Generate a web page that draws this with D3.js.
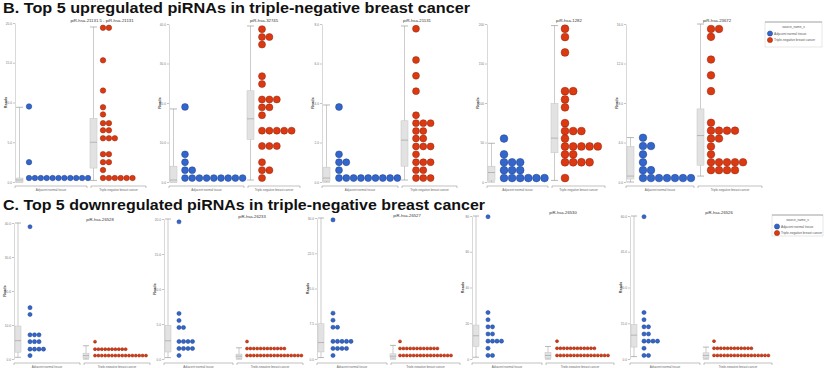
<!DOCTYPE html>
<html>
<head>
<meta charset="utf-8">
<script src="https://cdn.jsdelivr.net/npm/d3@7"></script>
<style>
  body { margin: 0; background: #fff; }
  svg { display: block; font-family: "Liberation Sans", Arial, sans-serif; }
</style>
</head>
<body>
<div id="chart"></div>
<script>
const groups = ["Adjacent normal tissue", "Triple-negative breast cancer"];
const colors = ["#3366cc", "#dc3912"];
const strokes = ["#1d3f85", "#8c240a"];

// panel names
const upNames = ["piR-hsa-21131.5 - piR-hsa-21131", "piR-hsa-32745", "piR-hsa-21131", "piR-hsa-1282", "piR-hsa-23672"];
const downNames = ["piR-hsa-26528", "piR-hsa-26233", "piR-hsa-26527", "piR-hsa-26530", "piR-hsa-26526"];

// y axis maxima (4 tick intervals)
const upMax = [20, 40, 8, 200, 16];
const downMax = [40, 20, 30, 80, 60];

// dots: [reads, number of dots in that row]
const upNormal = [
  [[9.5, 1], [2.5, 1], [0.5, 11]],
  [[19, 1], [7, 1], [5, 1], [3, 2], [1, 9]],
  [[3.8, 1], [1.4, 1], [1.0, 2], [0.6, 1], [0.2, 9]],
  [[55, 1], [35, 1], [25, 3], [15, 3], [5, 6]],
  [[4.48, 1], [3.64, 2], [2.8, 1], [2.0, 1], [1.2, 2], [0.4, 7]]
];
const upTumor = [
  [[19.4, 2], [15.3, 1], [11.5, 1], [9.4, 1], [8.5, 1], [7.4, 2], [6.5, 2], [5.5, 3], [3.5, 2], [2.5, 2], [1.5, 1], [0.5, 6]],
  [[38.7, 1], [36.7, 2], [34.8, 1], [26.8, 1], [24.8, 1], [20.9, 3], [18.9, 2], [16.9, 1], [13, 5], [9.1, 3], [5, 1], [3, 2], [1, 1]],
  [[7.76, 1], [6.18, 1], [5.38, 1], [4.6, 1], [3.38, 1], [2.98, 3], [2.58, 2], [2.2, 2], [1.8, 3], [1.4, 1], [1.0, 3], [0.6, 2], [0.2, 3]],
  [[194, 1], [183.5, 1], [164, 1], [115, 2], [104.5, 1], [94.5, 1], [74.5, 1], [64.5, 3], [55, 1], [45, 5], [35, 2], [25, 4], [5, 1]],
  [[15.5, 2], [14.7, 1], [12.4, 1], [10.8, 1], [9.2, 1], [6.0, 1], [5.2, 4], [4.4, 2], [3.6, 1], [2.8, 1], [2.0, 5], [1.2, 4]]
];
const downNormal = [
  [[38.9, 1], [15.1, 1], [13.1, 1], [7.1, 3], [5.1, 3], [2.9, 4], [1, 1]],
  [[19.6, 1], [6.5, 1], [5.5, 1], [4.5, 2], [2.5, 4], [1.5, 4], [0.5, 1]],
  [[29.6, 1], [9.75, 1], [8.25, 1], [6.75, 2], [3.75, 5], [2.25, 4], [0.75, 1]],
  [[79.6, 1], [26, 1], [22, 1], [18, 2], [14, 2], [10, 4], [6, 1], [2, 2]],
  [[59.7, 1], [19.5, 1], [16.5, 1], [13.5, 2], [10.5, 2], [7.5, 4], [4.5, 1], [1.5, 2]]
];
const downTumor = [
  [[5.1, 1], [2.9, 10], [1, 16]],
  [[2.5, 1], [1.5, 12], [0.5, 17]],
  [[3.75, 1], [2.25, 12], [0.75, 16]],
  [[10, 1], [6, 12], [2, 16]],
  [[7.5, 1], [4.5, 12], [1.5, 17]]
];

// boxes: [low whisker, q1, median, q3, high whisker]
const upBoxNormal = [[0, 0, 0.25, 0.5, 9.4], [0, 0, 0.5, 4, 18.5], [0, 0.05, 0.2, 0.75, 3.9], [0, 2, 12, 20, 49], [0, 0.3, 0.6, 3.6, 4.5]];
const upBoxTumor = [[0.2, 1.75, 5, 8, 19.5], [0.5, 10.8, 16, 23.1, 39.5], [0.1, 0.8, 2.12, 3.1, 7.9], [2, 37, 55.5, 99.5, 198], [0.6, 1.7, 4.7, 7.4, 16]];
const downBoxNormal = [[0.5, 2, 5.4, 9.7, 40], [0.2, 1, 2.6, 4.8, 20], [0.3, 1.5, 3.5, 7.5, 30], [1, 7, 13, 19, 80], [1, 5, 10, 14.5, 60]];
const downBoxTumor = [[0, 0.3, 1, 1.7, 3.9], [0, 0.1, 0.4, 0.7, 1.6], [0, 0.2, 0.6, 1.1, 2.9], [0, 0.5, 2, 3.6, 7], [0, 0.4, 1.5, 2.6, 5]];

// layout of the panels
const upLayout = [
  { ax: 15, split: 90, end: 146, top: 23, tx: 102, ty: 22, sp: [5.9, 5.9], off: [13, 13] },
  { ax: 169, split: 247, end: 300, top: 24, tx: 264, ty: 22, sp: [7.2, 7.4], off: [15, 15] },
  { ax: 322, split: 401, end: 457, top: 24, tx: 417, ty: 22, sp: [7.3, 7.3], off: [16, 15] },
  { ax: 487, split: 551, end: 605, top: 24, tx: 569, ty: 22, sp: [8.1, 8.2], off: [16, 14] },
  { ax: 626, split: 697, end: 762, top: 24, tx: 717, ty: 22, sp: [8, 8], off: [16, 14] }
];
const downLayout = [
  { ax: 14, split: 83, end: 150, top: 223, tx: 100, ty: 221, off: [15, 12] },
  { ax: 164, split: 236, end: 303, top: 219, tx: 252, ty: 218, off: [14, 11] },
  { ax: 317, split: 390, end: 460, top: 218, tx: 407, ty: 217, off: [15, 10] },
  { ax: 472, split: 545, end: 614, top: 216, tx: 563, ty: 214, off: [15, 12] },
  { ax: 630, split: 703, end: 772, top: 216, tx: 719, ty: 214, off: [13, 11] }
];

const svg = d3.select("#chart").append("svg")
  .attr("width", 824)
  .attr("height", 368);

svg.append("text").attr("x", 3).attr("y", 13)
  .attr("font-size", 15).attr("font-weight", "bold").attr("fill", "#111")
  .attr("textLength", 467).attr("lengthAdjust", "spacingAndGlyphs")
  .text("B. Top 5 upregulated piRNAs in triple-negative breast cancer");

svg.append("text").attr("x", 3).attr("y", 210)
  .attr("font-size", 15).attr("font-weight", "bold").attr("fill", "#111")
  .attr("textLength", 482).attr("lengthAdjust", "spacingAndGlyphs")
  .text("C. Top 5 downregulated piRNAs in triple-negative breast cancer");

function panel(name, max, L, bottom, titleSize, rowsN, rowsT, boxN, boxT, sp, bw) {
  const g = svg.append("g");
  const y = d3.scaleLinear().domain([0, max]).range([bottom, L.top]);
  const xs = d3.scaleOrdinal().domain(groups).range([L.ax + 1, L.split]);

  const yAxis = d3.axisLeft(y)
    .tickValues(d3.range(0, 5).map(i => i * max / 4))
    .tickSize(2)
    .tickSizeOuter(0)
    .tickFormat(d3.format(max >= 80 ? ".0f" : ".1f"));

  const ax = g.append("g")
    .attr("transform", "translate(" + L.ax + ",0)")
    .call(yAxis);
  ax.select(".domain").attr("stroke", "#cfcfcf").attr("stroke-width", 0.8);
  ax.selectAll(".tick line").attr("stroke", "#888").attr("stroke-width", 0.5);
  ax.selectAll(".tick text").attr("font-size", 3.2).attr("fill", "#777").attr("x", -3);

  g.append("text")
    .attr("transform", "translate(" + (L.ax - 8) + "," + ((L.top + bottom) / 2) + ") rotate(-90)")
    .attr("text-anchor", "middle")
    .attr("font-size", 3.8).attr("font-weight", "bold").attr("fill", "#444")
    .text("Reads");

  g.append("text")
    .attr("x", L.tx).attr("y", L.ty)
    .attr("text-anchor", "middle")
    .attr("font-size", titleSize).attr("fill", "#333")
    .text(name);

  // category axis
  const cy = bottom + 4;
  const segs = [[L.ax, L.split - 3], [L.split + 1, L.end]];
  segs.forEach(function (s, i) {
    g.append("path")
      .attr("d", "M" + s[0] + "," + (cy + 2) + "V" + cy + "H" + s[1] + "V" + (cy + 2))
      .attr("fill", "none").attr("stroke", "#999").attr("stroke-width", 0.6);
    g.append("text")
      .attr("x", (s[0] + s[1]) / 2).attr("y", cy + 4.5)
      .attr("text-anchor", "middle")
      .attr("font-size", 3).attr("fill", "#666")
      .text(groups[i]);
  });

  [boxN, boxT].forEach(function (b, i) {
    const x0 = xs(groups[i]);
    const xc = x0 + bw / 2;
    g.append("line")
      .attr("x1", xc).attr("x2", xc)
      .attr("y1", y(b[0])).attr("y2", y(b[4]))
      .attr("stroke", "#aaa").attr("stroke-width", 0.6);
    [b[0], b[4]].forEach(function (v) {
      g.append("line")
        .attr("x1", x0).attr("x2", x0 + bw)
        .attr("y1", y(v)).attr("y2", y(v))
        .attr("stroke", "#888").attr("stroke-width", 0.6);
    });
    g.append("rect")
      .attr("x", x0).attr("width", bw)
      .attr("y", y(b[3])).attr("height", Math.max(0.8, y(b[1]) - y(b[3])))
      .attr("fill", "#e2e2e2").attr("stroke", "#c4c4c4").attr("stroke-width", 0.5);
    g.append("line")
      .attr("x1", x0).attr("x2", x0 + bw)
      .attr("y1", y(b[2])).attr("y2", y(b[2]))
      .attr("stroke", "#888").attr("stroke-width", 0.5);
  });

  [rowsN, rowsT].forEach(function (rows, i) {
    const start = xs(groups[i]) + L.off[i];
    const pts = [];
    rows.forEach(function (r) {
      for (let k = 0; k < r[1]; k++) pts.push({ v: r[0], k: k });
    });
    g.selectAll(null)
      .data(pts)
      .enter().append("circle")
      .attr("cx", d => start + d.k * sp[i])
      .attr("cy", d => y(d.v))
      .attr("r", sp[i] / 2 - 0.2)
      .attr("fill", colors[i])
      .attr("stroke", strokes[i])
      .attr("stroke-width", 0.5);
  });
}

upNames.forEach(function (n, i) {
  const L = upLayout[i];
  panel(n, upMax[i], L, 182, 4.3, upNormal[i], upTumor[i], upBoxNormal[i], upBoxTumor[i], L.sp, 7);
});
downNames.forEach(function (n, i) {
  const L = downLayout[i];
  panel(n, downMax[i], L, 359, 4.2, downNormal[i], downTumor[i], downBoxNormal[i], downBoxTumor[i], [4.5, 3.4], 6);
});

function legend(x, y, w, h) {
  const g = svg.append("g");
  g.append("rect").attr("x", x).attr("y", y).attr("width", w).attr("height", h)
    .attr("fill", "#fff").attr("stroke", "#d6d6d6").attr("stroke-width", 0.6);
  g.append("line").attr("x1", x).attr("x2", x + w).attr("y1", y).attr("y2", y)
    .attr("stroke", "#999").attr("stroke-width", 0.8);
  g.append("text").attr("x", x + w / 2).attr("y", y + 6)
    .attr("text-anchor", "middle").attr("font-size", 3.2).attr("fill", "#555")
    .text("source_name_s");
  groups.forEach(function (gr, i) {
    const yy = y + 11.5 + i * 6.5;
    g.append("circle").attr("cx", x + 5).attr("cy", yy).attr("r", 2.6)
      .attr("fill", colors[i]).attr("stroke", strokes[i]).attr("stroke-width", 0.5);
    g.append("text").attr("x", x + 9).attr("y", yy + 1.1)
      .attr("font-size", 3.2).attr("fill", "#555").text(gr);
  });
}
legend(765, 22, 57, 25);
legend(772, 215, 51, 21);
</script>
</body>
</html>
